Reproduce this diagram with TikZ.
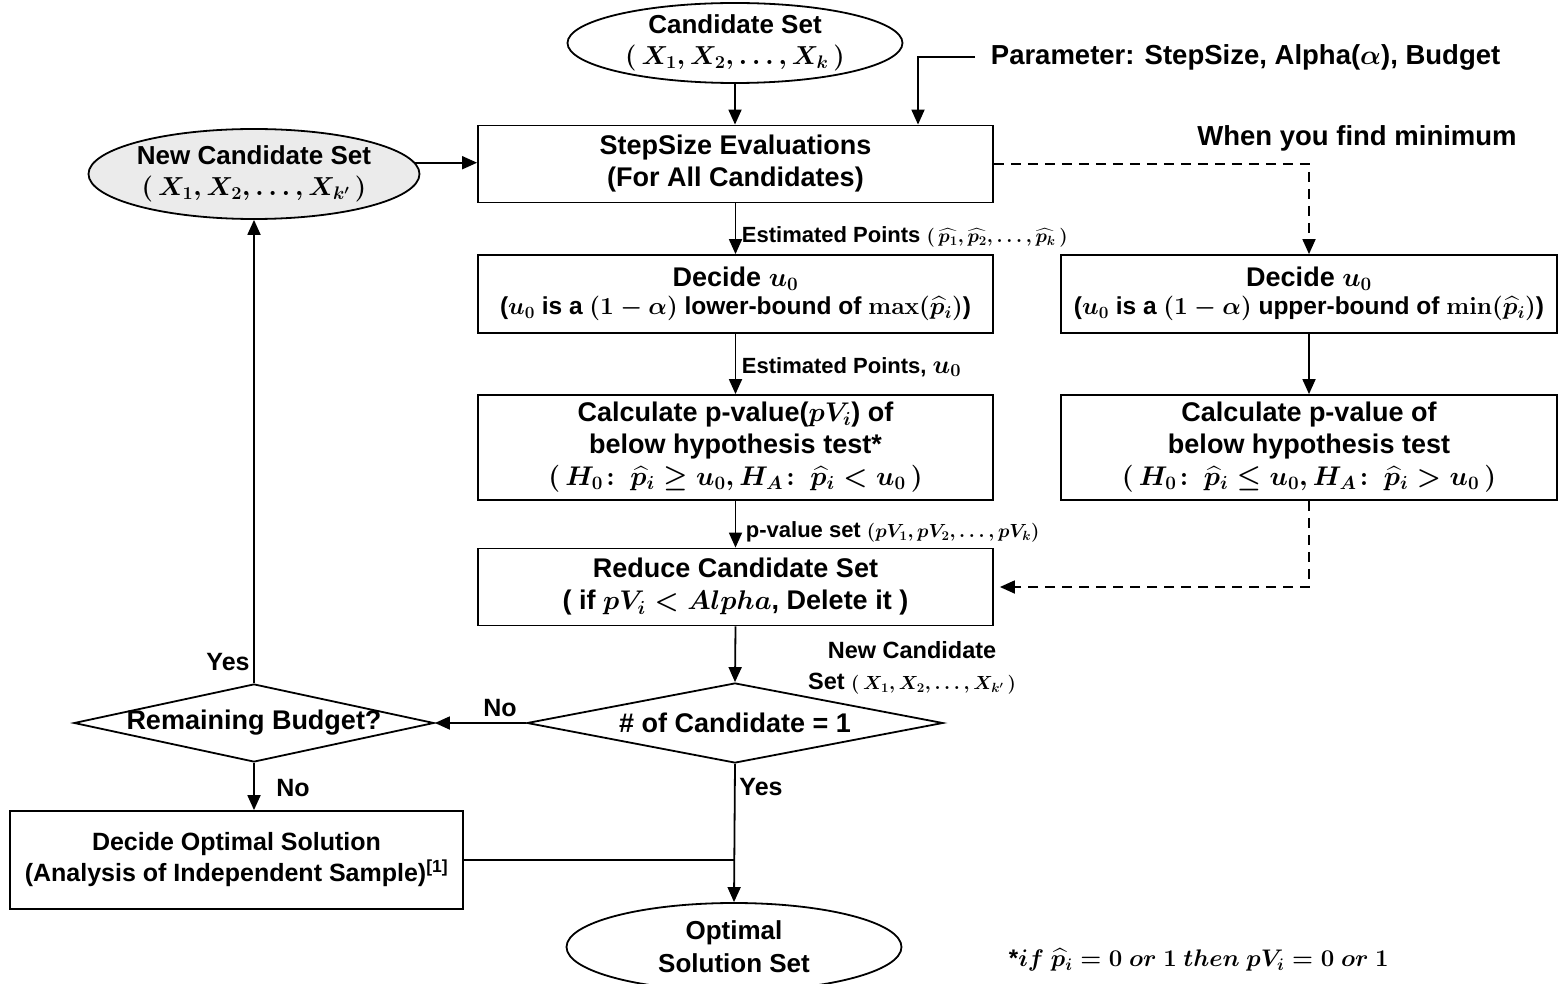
\RequirePackage{fix-cm}
\documentclass[tikz,border=0pt]{standalone}
\usepackage{amsmath}
\usepackage{bm}
\usepackage[no-math]{fontspec}
\setmainfont{Liberation Sans}
\usetikzlibrary{shapes.geometric,arrows.meta}
\begin{document}
\begin{tikzpicture}[x=1pt,y=-1pt,line width=1.8pt,
  >={Triangle[length=15pt,width=13pt]},
  bigf/.style={font=\bfseries\boldmath\fontsize{27}{32}\selectfont},
  box/.style={draw,rectangle,inner sep=0pt,align=center,bigf},
  ell/.style={draw,ellipse,inner sep=0pt,align=center,font=\bfseries\boldmath\fontsize{26}{33}\selectfont},
  dia/.style={draw,diamond,inner sep=0pt,bigf},
  lab/.style={inner sep=0pt,font=\bfseries\boldmath\fontsize{22}{30}\selectfont},
  yn/.style={inner sep=0pt,font=\bfseries\fontsize{25}{30}\selectfont},
  dsh/.style={dash pattern=on 10pt off 7pt}]
\useasboundingbox (0,0) rectangle (1561,984);
% nodes
\node[ell,minimum width=335pt,minimum height=80pt] (cand) at (735,43)
  {Candidate Set\\[-2pt]$(\,X_1,X_2,\dots,X_k\,)$};
\node[lab,anchor=west,font=\bfseries\boldmath\fontsize{27.5}{32}\selectfont] (param) at (990,57)
  {Parameter: StepSize, Alpha($\alpha$), Budget};
\node[ell,fill=black!8,minimum width=282pt,minimum height=90pt] (ncs) at (254,174)
  {New Candidate Set\\[-2pt]$(\,X_1,X_2,\dots,X_{k'}\,)$};
\node[box,minimum width=515pt,minimum height=77pt] (step) at (735.5,164)
  {StepSize Evaluations\\(For All Candidates)};
\node[lab,font=\bfseries\fontsize{27.5}{32}\selectfont] (when) at (1357,138) {When you find minimum};
\node[box,minimum width=515pt,minimum height=78pt] (dec1) at (735.5,294)
  {Decide $u_0$\\[-4pt]{\fontsize{24.5}{29}\selectfont ($u_0$ is a $(1-\alpha)$ lower-bound of $\max(\widehat{p}_i)$)}};
\node[box,minimum width=496pt,minimum height=78pt] (dec2) at (1309,294)
  {Decide $u_0$\\[-4pt]{\fontsize{24.5}{29}\selectfont ($u_0$ is a $(1-\alpha)$ upper-bound of $\min(\widehat{p}_i)$)}};
\node[box,minimum width=515pt,minimum height=105pt] (calc1) at (735.5,447.5)
  {Calculate p-value($pV_i$) of\\below hypothesis test*\\$(\,H_0\colon\,\widehat{p}_i\ge u_0,H_A\colon\,\widehat{p}_i<u_0\,)$};
\node[box,minimum width=496pt,minimum height=105pt] (calc2) at (1309,447.5)
  {Calculate p-value of\\below hypothesis test\\$(\,H_0\colon\,\widehat{p}_i\le u_0,H_A\colon\,\widehat{p}_i>u_0\,)$};
\node[box,minimum width=515pt,minimum height=77pt] (red) at (735.5,587)
  {Reduce Candidate Set\\( if $pV_i<Alpha$, Delete it )};
\node[dia,minimum width=416pt,minimum height=80pt] (d1) at (735,723)
  {\makebox[0pt]{\# of Candidate = 1}};
\node[dia,minimum width=360pt,minimum height=78pt] (d2) at (254,723)
  {\makebox[0pt]{Remaining Budget?}};
\node[box,minimum width=453pt,minimum height=98pt,font=\bfseries\fontsize{25}{31}\selectfont] (dopt) at (236.5,860)
  {Decide Optimal Solution\\(Analysis of Independent Sample)\textsuperscript{[1]}};
\node[ell,minimum width=335pt,minimum height=88pt] (opt) at (734,947)
  {Optimal\\Solution Set};
% labels
\node[lab,anchor=west] (l1) at (741,237)
  {Estimated Points {\fontsize{19}{20}\selectfont$(\,\widehat{p_1},\widehat{p_2},\dots,\widehat{p_k}\,)$}};
\node[lab,anchor=west] (l2) at (741,367) {Estimated Points, {\fontsize{26}{28}\selectfont$u_0$}};
\node[lab,anchor=west] (l3) at (745,532)
  {p-value set {\fontsize{19}{20}\selectfont$(pV_1,pV_2,\dots,pV_k)$}};
\node[lab,align=center,font=\bfseries\boldmath\fontsize{23.5}{31}\selectfont] (l4) at (912,668)
  {New Candidate\\Set {\fontsize{19}{20}\selectfont$(\,X_1,X_2,\dots,X_{k'}\,)$}};
\node[yn] (lno1) at (500,708) {No};
\node[yn] (lyes1) at (228,662) {Yes};
\node[yn] (lno2) at (293,788) {No};
\node[yn] (lyes2) at (761,787) {Yes};
\node[anchor=west,inner sep=0pt,font=\bfseries\boldmath\fontsize{24}{30}\selectfont] (foot) at (1008,960)
  {*$if\ \widehat{p}_i=\mathbf{0}\ or\ \mathbf{1}\ then\ pV_i=\mathbf{0}\ or\ \mathbf{1}$};
% connectors
\coordinate (pc) at (918,57);
\draw[->] (cand.south) -- (step.north -| cand.south);
\draw[->] ([xshift=-15pt]param.west) -- (pc) -- (pc |- step.north);
\draw[->] (ncs.4) -- (ncs.4 -| step.west);
\draw[dsh,->] (step.east) -- (step.east -| dec2.north) -- (dec2.north);
\draw[->] (step.south) -- (dec1.north);
\draw[->] (dec2.south) -- (calc2.north);
\draw[->] (dec1.south) -- (calc1.north);
\draw[->] (calc1.south) -- (red.north);
\draw[dsh,->] (calc2.south) -- (calc2.south |- red.east) -- ([xshift=6pt]red.east);
\draw[->] (red.south) -- (d1.north);
\draw[->] (d1.west) -- (d2.east);
\draw[->] (d2.north) -- (ncs.south);
\draw[->] (d2.south) -- (d2.south |- dopt.north);
\draw (dopt.east) -- (dopt.east -| d1.south);
\draw[->] (d1.south) -- (opt.north);
\end{tikzpicture}
\end{document}
